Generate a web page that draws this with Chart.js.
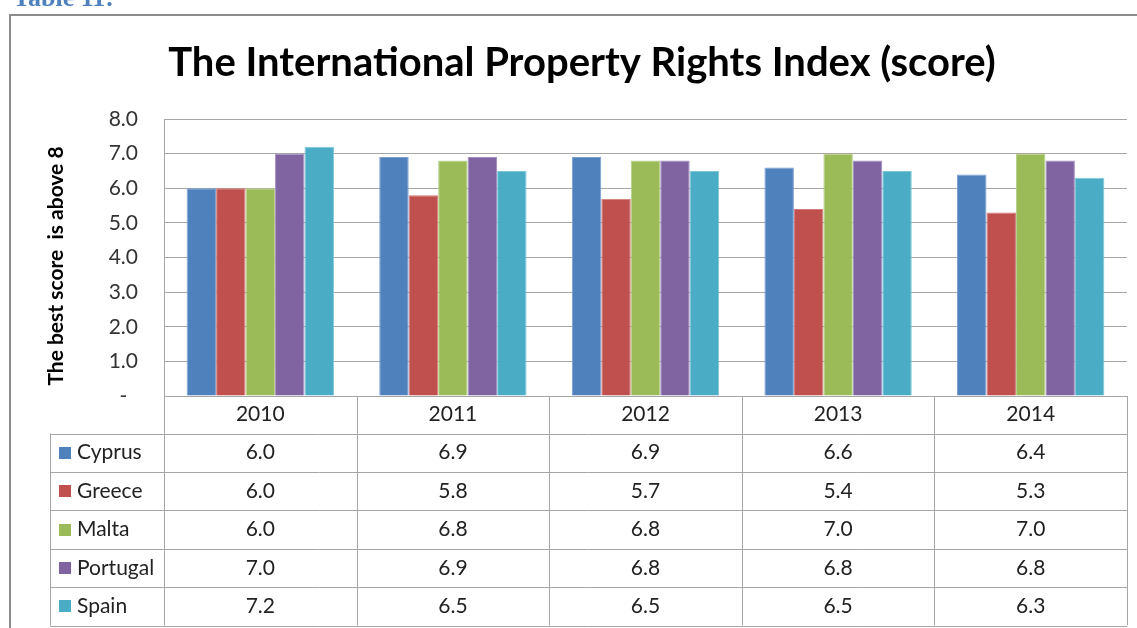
<!DOCTYPE html>
<html><head><meta charset="utf-8">
<script src="https://cdn.jsdelivr.net/npm/chart.js@4/dist/chart.umd.min.js"></script>
<style>html,body{margin:0;padding:0;background:#fff;overflow:hidden}#wrap{position:relative;width:1137px;height:628px}</style>
</head><body><div id="wrap"><canvas id="c" width="1137" height="628"></canvas></div>
<script>
const years = ['2010', '2011', '2012', '2013', '2014'];
const countries = ['Cyprus', 'Greece', 'Malta', 'Portugal', 'Spain'];
const cyprus = [6.0, 6.9, 6.9, 6.6, 6.4];
const greece = [6.0, 5.8, 5.7, 5.4, 5.3];
const malta = [6.0, 6.8, 6.8, 7.0, 7.0];
const portugal = [7.0, 6.9, 6.8, 6.8, 6.8];
const spain = [7.2, 6.5, 6.5, 6.5, 6.3];
const seriesValues = [cyprus, greece, malta, portugal, spain];
const yMin = 0, yMax = 8, yStep = 1;
const chartTitle = 'The International Property Rights Index (score)';
const yTitle = 'The best score  is above 8';
const caption = 'Table 11:';

const fills = ['#4F81BD', '#C0504D', '#9BBB59', '#8064A2', '#4BACC6'];
const edges = ['#7A9FD0', '#D47A78', '#B7D08A', '#A08CC0', '#7CC6D8'];
const gridCol = '#a6a6a6';
const FONT = 'Lato, "Open Sans", sans-serif';

const framePlugin = {
  id: 'frame',
  beforeDraw(chart) {
    const ctx = chart.ctx;
    ctx.save();
    ctx.fillStyle = '#fff';
    ctx.fillRect(0, 0, chart.width, chart.height);
    ctx.strokeStyle = '#8c8c8c';
    ctx.lineWidth = 2;
    ctx.strokeRect(10, 15, 1200, 700);
    ctx.fillStyle = '#4F81BD';
    ctx.font = 'bold 26px "Liberation Serif", serif';
    ctx.textBaseline = 'alphabetic';
    ctx.textAlign = 'left';
    ctx.fillText(caption, 13, 6);
    ctx.fillStyle = '#000';
    ctx.font = 'bold 40px ' + FONT;
    ctx.textAlign = 'center';
    ctx.fillText(chartTitle, 582, 76);
    // rotated y-axis title
    ctx.save();
    ctx.translate(56, 266);
    ctx.rotate(-Math.PI / 2);
    ctx.font = 'bold 21px ' + FONT;
    ctx.textBaseline = 'middle';
    ctx.fillText(yTitle, 0, 0);
    ctx.restore();
    ctx.restore();
  },
  afterDraw(chart) {
    const ctx = chart.ctx;
    const ca = chart.chartArea;
    const xs = chart.scales.x;
    const n = years.length;
    const colW = (ca.right - ca.left) / n;
    const headTop = ca.bottom;
    const headH = 37.5;
    const rowH = 38.4;
    const legLeft = 50;
    const rowsTop = headTop + headH;
    const rowsBottom = rowsTop + rowH * countries.length;
    ctx.save();
    ctx.strokeStyle = gridCol;
    ctx.lineWidth = 1;
    ctx.beginPath();
    ctx.moveTo(ca.left, Math.round(headTop) + 0.5);
    ctx.lineTo(ca.right, Math.round(headTop) + 0.5);
    for (let i = 0; i <= n; i++) {
      const x = Math.round(ca.left + i * colW) + 0.5;
      ctx.moveTo(x, headTop);
      ctx.lineTo(x, rowsBottom);
    }
    ctx.moveTo(legLeft + 0.5, rowsTop);
    ctx.lineTo(legLeft + 0.5, rowsBottom);
    for (let r = 0; r <= countries.length; r++) {
      const y = Math.round(rowsTop + r * rowH) + 0.5;
      ctx.moveTo(legLeft, y);
      ctx.lineTo(ca.right, y);
    }
    ctx.stroke();
    ctx.textBaseline = 'middle';
    ctx.font = '21px ' + FONT;
    for (let r = 0; r < countries.length; r++) {
      const cy = rowsTop + r * rowH + rowH / 2;
      ctx.fillStyle = fills[r];
      ctx.fillRect(59, Math.round(cy - 6), 12, 12);
      ctx.fillStyle = '#222';
      ctx.textAlign = 'left';
      ctx.fillText(countries[r], 77, cy);
      ctx.textAlign = 'center';
      for (let i = 0; i < n; i++) {
        ctx.fillText(seriesValues[r][i].toFixed(1), xs.getPixelForValue(i), cy);
      }
    }
    ctx.restore();
  }
};

new Chart(document.getElementById('c'), {
  type: 'bar',
  data: {
    labels: years,
    datasets: countries.map((c, k) => ({
      label: c,
      data: seriesValues[k],
      backgroundColor: fills[k],
      borderColor: edges[k],
      borderWidth: 1,
      categoryPercentage: 0.765,
      barPercentage: 1.0
    }))
  },
  options: {
    responsive: false,
    animation: false,
    devicePixelRatio: 1,
    layout: { padding: { left: 10, top: 119, right: 10, bottom: 0 } },
    plugins: { legend: { display: false }, title: { display: false }, tooltip: { enabled: false } },
    scales: {
      x: {
        grid: { display: false, drawTicks: false },
        border: { display: false },
        ticks: { font: { family: FONT, size: 21 }, color: '#222', padding: 6 },
        afterFit(s) { s.height = 232; }
      },
      y: {
        min: yMin, max: yMax,
        grid: { color: gridCol, lineWidth: 1, drawTicks: false },
        border: { display: true, color: gridCol },
        ticks: {
          stepSize: yStep,
          font: { family: FONT, size: 21 },
          color: '#333',
          padding: 26,
          callback: v => v === 0 ? '-  ' : v.toFixed(1)
        },
        title: { display: false },
        afterFit(s) { s.width = 154; }
      }
    }
  },
  plugins: [framePlugin]
});
</script></body></html>
